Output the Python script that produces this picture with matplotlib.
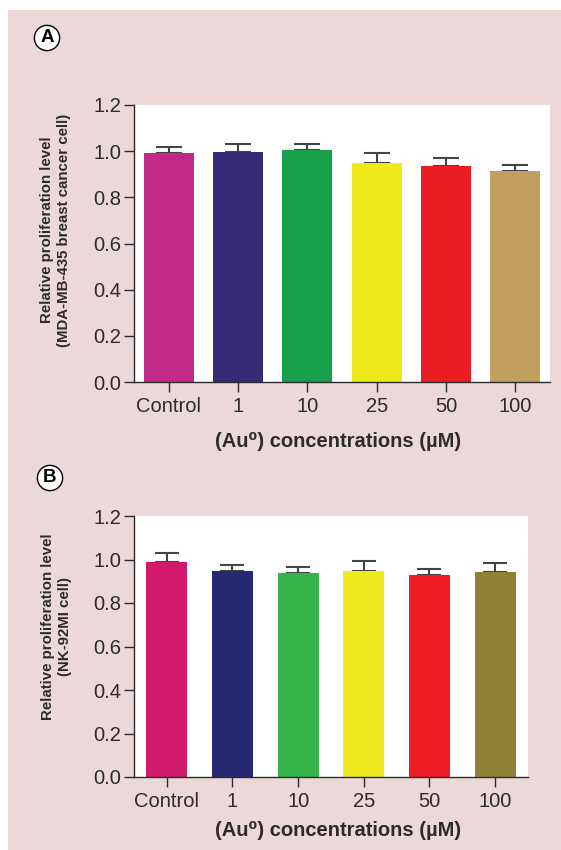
import matplotlib.pyplot as plt
import numpy as np

plt.rcParams['font.family'] = ['Liberation Sans', 'DejaVu Sans']

categories = ['Control', '1', '10', '25', '50', '100']

# panel A: MDA-MB-435 breast cancer cell
values_a = [0.990, 0.995, 1.004, 0.948, 0.935, 0.913]
err_a = [0.030, 0.034, 0.029, 0.045, 0.036, 0.029]
colors_a = ['#C12A89', '#372A77', '#18A04A', '#EFE91C', '#E91E24', '#C29E5F']

# panel B: NK-92MI cell
values_b = [0.989, 0.948, 0.939, 0.946, 0.928, 0.943]
err_b = [0.043, 0.029, 0.026, 0.049, 0.029, 0.043]
colors_b = ['#D11B6A', '#262872', '#33B54A', '#EEEA1F', '#EE1C24', '#918137']

yticks = [0.0, 0.2, 0.4, 0.6, 0.8, 1.0, 1.2]
pink = '#EBD8D8'
dark = '#2b2b2b'

fig = plt.figure(figsize=(5.61, 8.5), dpi=100)
fig.patch.set_facecolor('white')
# pink panel background
fig.patches.append(plt.Rectangle((8/561, 0), 1, 1 - 10/850, transform=fig.transFigure,
                                 facecolor=pink, edgecolor='none', zorder=-10))

W, H = 561.0, 850.0


def panel(rect, vals, errs, cols, width, ylab, ylab_xy, xlab_y, letter, letter_xy):
    l, t, r, b = rect
    ax = fig.add_axes([l / W, 1 - b / H, (r - l) / W, (b - t) / H])
    ax.set_zorder(5)
    x = np.arange(len(categories))
    ax.bar(x, vals, width=width, color=cols, zorder=2)
    ax.errorbar(x, vals, yerr=[np.zeros(len(errs)), errs], fmt='none',
                ecolor='#444444', elinewidth=1.5, capsize=width * 13.5, capthick=1.5, zorder=1)
    ax.set_xlim(-0.5, len(categories) - 0.5)
    ax.set_ylim(0, 1.2)
    ax.set_yticks(yticks)
    ax.set_yticklabels(['%.1f' % v for v in yticks])
    ax.set_xticks(x)
    ax.set_xticklabels(categories)
    ax.set_facecolor('white')
    for s in ['top', 'right']:
        ax.spines[s].set_visible(False)
    for s in ['left', 'bottom']:
        ax.spines[s].set_color(dark)
        ax.spines[s].set_linewidth(1.0)
    ax.tick_params(axis='both', colors=dark, labelsize=14.5, length=7.5, width=1.0)
    ax.tick_params(axis='y', pad=1.5)
    ax.tick_params(axis='x', length=7, pad=4)
    ax.set_ylabel(ylab, fontsize=10.8, fontweight='bold', color=dark, linespacing=1.25)
    ax.yaxis.set_label_coords(*ylab_xy)
    ax.set_xlabel('(Au\u2070) concentrations (\u00b5M)', fontsize=14.5, fontweight='bold', color=dark)
    ax.xaxis.set_label_coords((338 - l) / (r - l), xlab_y)
    fig.text(letter_xy[0] / W, 1 - letter_xy[1] / H, letter, fontsize=13.5, fontweight='bold',
             ha='center', va='center',
             bbox=dict(boxstyle='circle,pad=0.22', facecolor='white', edgecolor='black', linewidth=1.0))
    return ax


ax1 = panel((134, 105, 550, 382), values_a, err_a, colors_a, 0.72,
            'Relative proliferation level\n(MDA-MB-435 breast cancer cell)',
            ((71 - 134) / 416, (382 - 230) / 277), -(432 - 382) / 277, 'A', (47, 38))
ax2 = panel((134, 516, 528, 777), values_b, err_b, colors_b, 0.62,
            'Relative proliferation level\n(NK-92MI cell)',
            ((72 - 134) / 394, (777 - 627) / 261), -(821 - 777) / 261, 'B', (50, 478))

fig.savefig('out.png', dpi=100)
